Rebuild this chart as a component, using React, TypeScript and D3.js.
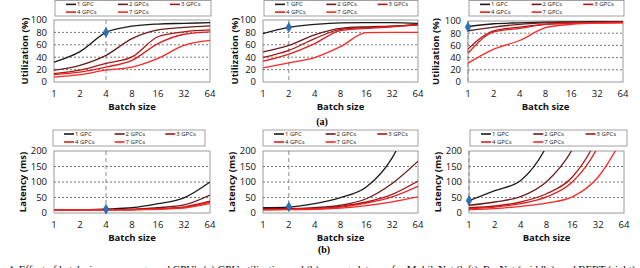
import React from "react";
import * as d3 from "d3";

const batchSizes = [1, 2, 4, 8, 16, 32, 64];
const seriesNames = ["1 GPC", "2 GPCs", "3 GPCs", "4 GPCs", "7 GPCs"];
const seriesColors = ["#1a1a1a", "#6a1c1c", "#a81818", "#e21e1e", "#ff2626"];

const utilTicks = [0, 20, 40, 60, 80, 100];
const latTicks = [0, 50, 100, 150, 200];

// Utilization (%) — MobileNet, ResNet, BERT
const utilMobileNet = [
  [32, 49, 80, 90, 93.5, 94.6, 95.7],
  [19, 27, 43, 70, 84, 88, 90.5],
  [13.5, 19, 30, 40.5, 73, 81, 84],
  [12, 16, 24, 35, 62, 77, 81],
  [8, 12, 19, 24, 38, 59, 67],
];
const utilResNet = [
  [78, 88, 93, 95.5, 95.7, 95.7, 94.6],
  [48.6, 59, 76, 86.5, 89, 90, 92],
  [39.5, 51, 70, 85, 88, 90, 93],
  [33.5, 45, 62, 83, 86.5, 89, 92],
  [22.7, 31, 39.5, 57, 79.5, 80, 80],
];
const utilBert = [
  [91, 95.5, 97, 98, 98.5, 99, 99],
  [84, 90, 94.5, 96.8, 97.8, 98.3, 98.8],
  [54, 84, 90, 94.5, 96.5, 97.5, 98],
  [47, 82, 88, 94.5, 96.5, 97, 97.5],
  [31, 54, 68, 89, 94.5, 96.5, 97],
];

// Latency (ms) — MobileNet, ResNet, BERT
const latMobileNet = [
  [10.7, 10.7, 12.9, 17, 30, 49, 100],
  [10.5, 10.5, 11, 12, 17, 26, 58],
  [10, 10, 10.5, 11, 14, 20, 38],
  [10, 10, 10, 10.5, 13, 18, 35],
  [10, 10, 10, 10.5, 12, 16, 30],
];
const latResNet = [
  [17, 19, 30, 49.5, 84, 178, 360],
  [14, 14, 17, 25, 46, 95, 167],
  [11, 12, 14, 21.5, 35.5, 60, 103],
  [11, 12, 13, 19, 32, 52, 86],
  [10, 11, 12, 16, 24, 36, 52],
];
const latBert = [
  [40, 72, 105, 215, 430, 860, 1700],
  [25, 35.5, 53, 101, 205, 400, 800],
  [17, 22.6, 35.5, 62, 116, 250, 500],
  [14, 19, 30, 52, 100, 215, 430],
  [11, 14, 21.5, 32, 52, 116, 250],
];

const markers = {
  utilMobileNet: [4, 80],
  utilResNet: [2, 88],
  utilBert: [1, 90],
  latMobileNet: [4, 12],
  latResNet: [2, 20],
  latBert: [1, 40],
};

type PanelProps = {
  id: string;
  left: number;
  right: number;
  top: number;
  bottom: number;
  yMax: number;
  yTicks: number[];
  data: number[][];
  marker: number[];
  yTitle: string;
  yTitleX: number;
  legendX0: number;
  legendX1: number;
  legendY0: number;
  legendY1: number;
};

const tickFont = "'Open Sans', 'Liberation Sans', sans-serif";

function Panel(p: PanelProps) {
  const x = d3.scaleLog().base(2).domain([1, 64]).range([p.left, p.right]);
  const y = d3.scaleLinear().domain([0, p.yMax]).range([p.bottom, p.top]);
  const line = d3
    .line<[number, number]>()
    .x((d) => x(d[0]))
    .y((d) => y(d[1]))
    .curve(d3.curveMonotoneX);
  const lw = p.legendX1 - p.legendX0;
  const legendPos = [
    [0, 0],
    [1, 0],
    [2, 0],
    [0, 1],
    [1, 1],
  ];
  const rowH = (p.legendY1 - p.legendY0) / 2;
  const midY = (p.top + p.bottom) / 2;
  return (
    <g>
      <defs>
        <clipPath id={`clip-${p.id}`}>
          <rect x={p.left} y={p.top} width={p.right - p.left} height={p.bottom - p.top} />
        </clipPath>
      </defs>
      <rect x={p.left} y={p.top} width={p.right - p.left} height={p.bottom - p.top} fill="white" stroke="#9a9a9a" strokeWidth={1} />
      {p.yTicks.slice(1, -1).map((t) => (
        <line key={t} x1={p.left} x2={p.right} y1={y(t)} y2={y(t)} stroke="#555" strokeWidth={0.8} strokeDasharray="2,2" />
      ))}
      <line x1={x(p.marker[0])} x2={x(p.marker[0])} y1={p.top} y2={p.bottom} stroke="#8a8a8a" strokeWidth={1} strokeDasharray="4,3" />
      <g clipPath={`url(#clip-${p.id})`}>
        {p.data.map((s, i) => (
          <path
            key={i}
            d={line(batchSizes.map((b, j) => [b, s[j]] as [number, number])) || ""}
            fill="none"
            stroke={seriesColors[i]}
            strokeWidth={1.3}
          />
        ))}
      </g>
      <path
        d={d3.symbol().type(d3.symbolDiamond).size(28)() || ""}
        transform={`translate(${x(p.marker[0])},${y(p.marker[1])})`}
        fill="#2a72b8"
        stroke="#1d5a96"
        strokeWidth={0.5}
      />
      {p.yTicks.map((t) => (
        <text key={t} x={p.left - 7} y={y(t)} dy="0.35em" textAnchor="end" fontSize={9.5} fontFamily={tickFont} fill="#111">
          {t}
        </text>
      ))}
      {batchSizes.map((b) => (
        <text key={b} x={x(b)} y={p.bottom + 12} dy="0.35em" textAnchor="middle" fontSize={9.5} fontFamily={tickFont} fill="#111">
          {b}
        </text>
      ))}
      <text x={(p.left + p.right) / 2} y={p.bottom + 25} dy="0.35em" textAnchor="middle" fontSize={9.5} fontWeight="bold" fontFamily={tickFont} fill="#111">
        Batch size
      </text>
      <text transform={`translate(${p.yTitleX},${midY}) rotate(-90)`} textAnchor="middle" dy="0.35em" fontSize={9.5} fontWeight="bold" fontFamily={tickFont} fill="#111">
        {p.yTitle}
      </text>
      <rect x={p.legendX0} y={p.legendY0} width={lw} height={p.legendY1 - p.legendY0} fill="white" stroke="#8a8a8a" strokeWidth={0.8} />
      {seriesNames.map((n, i) => {
        const [c, r] = legendPos[i];
        const lx = p.legendX0 + 11 + c * (lw * 0.333);
        const ly = p.legendY0 + rowH * (r + 0.5);
        return (
          <g key={n}>
            <line x1={lx} x2={lx + 10} y1={ly} y2={ly} stroke={seriesColors[i]} strokeWidth={1.6} />
            <text x={lx + 11} y={ly} dy="0.35em" fontSize={6} fontFamily={tickFont} fill="#222">
              {n}
            </text>
          </g>
        );
      })}
    </g>
  );
}

export default function App() {
  return (
    <svg width={640} height={268} style={{ position: "absolute", left: 0, top: 0 }}>
      <rect width={640} height={268} fill="white" />
      <Panel id="u1" left={54} right={210} top={20} bottom={82} yMax={100} yTicks={utilTicks} data={utilMobileNet} marker={markers.utilMobileNet} yTitle="Utilization (%)" yTitleX={25} legendX0={55} legendX1={211} legendY0={0.5} legendY1={16} />
      <Panel id="u2" left={263} right={418} top={20} bottom={82} yMax={100} yTicks={utilTicks} data={utilResNet} marker={markers.utilResNet} yTitle="Utilization (%)" yTitleX={235} legendX0={264} legendX1={418} legendY0={0.5} legendY1={16} />
      <Panel id="u3" left={468} right={623} top={21} bottom={82} yMax={100} yTicks={utilTicks} data={utilBert} marker={markers.utilBert} yTitle="Utilization (%)" yTitleX={436} legendX0={469} legendX1={624} legendY0={0.5} legendY1={16} />
      <text x={322} y={121} dy="0.35em" textAnchor="middle" fontSize={10} fontWeight="bold" fontFamily="'Liberation Serif', serif">(a)</text>
      <Panel id="l1" left={54} right={210} top={151} bottom={213} yMax={200} yTicks={latTicks} data={latMobileNet} marker={markers.latMobileNet} yTitle="Latency (ms)" yTitleX={23} legendX0={53} legendX1={205} legendY0={130} legendY1={146} />
      <Panel id="l2" left={263} right={418} top={151} bottom={213} yMax={200} yTicks={latTicks} data={latResNet} marker={markers.latResNet} yTitle="Latency (ms)" yTitleX={232} legendX0={263} legendX1={418} legendY0={130} legendY1={146} />
      <Panel id="l3" left={469} right={624} top={151} bottom={213} yMax={200} yTicks={latTicks} data={latBert} marker={markers.latBert} yTitle="Latency (ms)" yTitleX={438} legendX0={470} legendX1={627} legendY0={130} legendY1={146} />
      <text x={324} y={249} dy="0.35em" textAnchor="middle" fontSize={10} fontWeight="bold" fontFamily="'Liberation Serif', serif">(b)</text>
      <text x={8} y={273} fontSize={11} fontFamily="'Liberation Serif', serif" fill="#111" textLength={630}>
        4. Effect of batch size on average and GPU's (a) GPU utilization and (b) average latency for MobileNet (left), ResNet (middle), and BERT (right).
      </text>
    </svg>
  );
}
